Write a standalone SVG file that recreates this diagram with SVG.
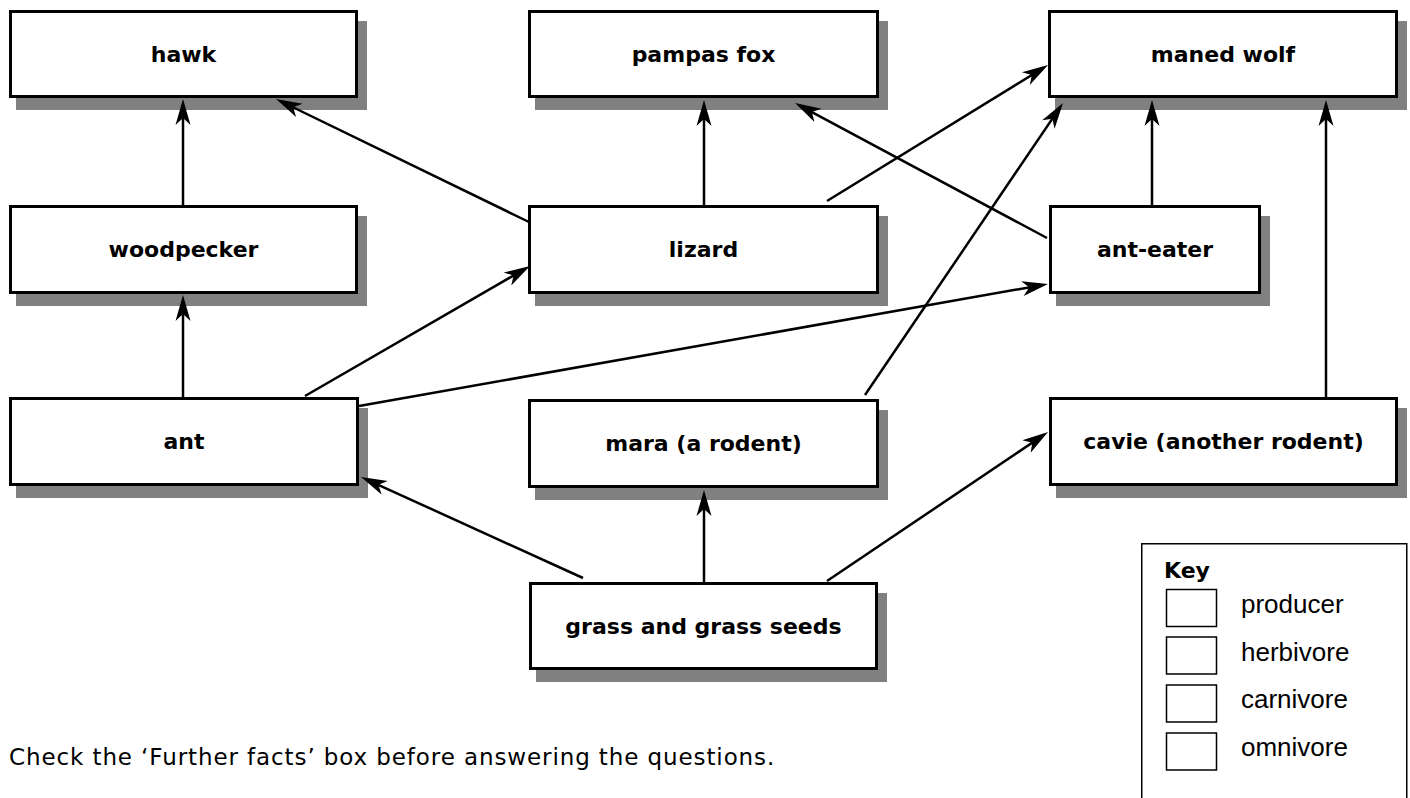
<svg xmlns="http://www.w3.org/2000/svg" width="1410" height="798" viewBox="0 0 1410 798">
<style>
.box{fill:#fff;stroke:#000;stroke-width:3}
.sh{fill:#808080}
.lbl{font-family:"DejaVu Sans",sans-serif;font-weight:bold;font-size:22px;text-anchor:middle;fill:#000}
.con{stroke:#000;stroke-width:2.5;fill:none;marker-end:url(#ah)}
.key{fill:#fff;stroke:#000;stroke-width:1.5}
.kt{font-family:"Liberation Sans",Arial,sans-serif;font-size:26px;fill:#000}
.note{font-family:"DejaVu Sans",sans-serif;font-size:23px;letter-spacing:0.9px;fill:#000}
</style>
<defs>
<marker id="ah" markerUnits="userSpaceOnUse" markerWidth="48" markerHeight="24" viewBox="-24 -12 48 24" refX="0" refY="0" orient="auto" overflow="visible">
<path d="M8,0 L-18,-7.5 L-11,0 L-18,7.5 Z" fill="#000"/>
</marker>
</defs>
<rect width="1410" height="798" fill="#fff"/>
<g id="hawk"><rect class="sh" x="16" y="21" width="351" height="89"/><rect class="box" x="10.5" y="11.5" width="346" height="85"/><text class="lbl" x="183.5" y="62">hawk</text></g>
<g id="pampas-fox"><rect class="sh" x="535" y="21" width="353" height="89"/><rect class="box" x="529.5" y="11.5" width="348" height="85"/><text class="lbl" x="703.5" y="62">pampas fox</text></g>
<g id="maned-wolf"><rect class="sh" x="1055" y="21" width="352" height="89"/><rect class="box" x="1049.5" y="11.5" width="347" height="85"/><text class="lbl" x="1223" y="62">maned wolf</text></g>
<g id="woodpecker"><rect class="sh" x="16" y="216" width="351" height="90"/><rect class="box" x="10.5" y="206.5" width="346" height="86"/><text class="lbl" x="183.5" y="257">woodpecker</text></g>
<g id="lizard"><rect class="sh" x="535" y="216" width="353" height="90"/><rect class="box" x="529.5" y="206.5" width="348" height="86"/><text class="lbl" x="703.5" y="257">lizard</text></g>
<g id="ant-eater"><rect class="sh" x="1056" y="216" width="214" height="90"/><rect class="box" x="1050.5" y="206.5" width="209" height="86"/><text class="lbl" x="1155" y="257">ant-eater</text></g>
<g id="ant"><rect class="sh" x="16" y="408" width="352" height="90"/><rect class="box" x="10.5" y="398.5" width="347" height="86"/><text class="lbl" x="184" y="449">ant</text></g>
<g id="mara"><rect class="sh" x="535" y="410" width="353" height="90"/><rect class="box" x="529.5" y="400.5" width="348" height="86"/><text class="lbl" x="703.5" y="451">mara (a rodent)</text></g>
<g id="cavie"><rect class="sh" x="1056" y="408" width="351" height="90"/><rect class="box" x="1050.5" y="398.5" width="346" height="86"/><text class="lbl" x="1223.5" y="449">cavie (another rodent)</text></g>
<g id="grass"><rect class="sh" x="536" y="593" width="351" height="89"/><rect class="box" x="530.5" y="583.5" width="346" height="85"/><text class="lbl" x="703.5" y="634">grass and grass seeds</text></g>
<g id="connectors">
<line class="con" x1="183" y1="205" x2="183" y2="107"/>
<line class="con" x1="529" y1="222" x2="283.2" y2="102.5"/>
<line class="con" x1="704" y1="205" x2="704" y2="108"/>
<line class="con" x1="827" y1="201" x2="1041.2" y2="69.2"/>
<line class="con" x1="1047" y1="238" x2="802.1" y2="106.8"/>
<line class="con" x1="1152" y1="205" x2="1152" y2="108"/>
<line class="con" x1="865" y1="395" x2="1058.5" y2="109.6"/>
<line class="con" x1="1326" y1="397" x2="1326" y2="108"/>
<line class="con" x1="183" y1="397" x2="183" y2="303"/>
<line class="con" x1="305" y1="396" x2="523.1" y2="270"/>
<line class="con" x1="359" y1="406" x2="1040.1" y2="285.4"/>
<line class="con" x1="583" y1="578" x2="368.3" y2="480.3"/>
<line class="con" x1="704" y1="582" x2="704" y2="498"/>
<line class="con" x1="827" y1="581" x2="1041.4" y2="436.5"/>
</g>
<g id="key">
<rect x="1141.75" y="543.75" width="265" height="280" fill="none" stroke="#000" stroke-width="1.5"/>
<text x="1164" y="578" font-family="DejaVu Sans,sans-serif" font-weight="bold" font-size="22">Key</text>
<rect class="key" x="1166.5" y="589.5" width="50" height="37"/>
<rect class="key" x="1166.5" y="637" width="50" height="37"/>
<rect class="key" x="1166.5" y="685" width="50" height="37"/>
<rect class="key" x="1166.5" y="733" width="50" height="37"/>
<text class="kt" x="1241" y="613">producer</text>
<text class="kt" x="1241" y="661">herbivore</text>
<text class="kt" x="1241" y="708">carnivore</text>
<text class="kt" x="1241" y="756">omnivore</text>
</g>
<text class="note" x="9" y="765">Check the ‘Further facts’ box before answering the questions.</text>
</svg>
